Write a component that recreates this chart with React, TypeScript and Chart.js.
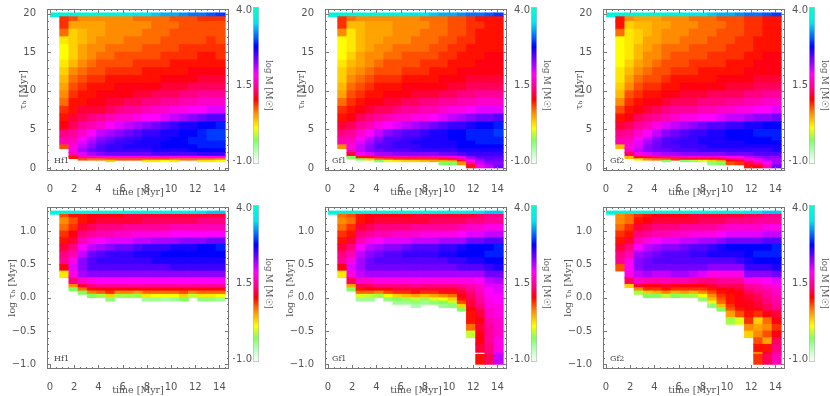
import React, { useEffect, useRef } from "react";
import { Chart, registerables } from "chart.js";
Chart.register(...registerables);

const _ = null;
const B4 = [_, _, _, _];
const B6 = [...B4, _, _];
const B8 = [...B6, _, _];
const B9 = [...B8, _];
const B10 = [...B9, _];
const B11 = [...B10, _];
const B12 = [...B11, _];
const B13 = [...B12, _];
const B14 = [...B13, _];
const B15 = [...B14, _];
const B17 = [...B15, _, _];
const B18 = [...B17, _];

const TIME_BINS = [0.42, 1.18, 1.94, 2.7, 3.46, 4.22, 4.98, 5.74, 6.5, 7.26, 8.02, 8.78, 9.54, 10.3, 11.06, 11.82, 12.58, 13.34, 14.1];
const TAU_EDGES = [0, 0.4, 0.8, 1, 1.2, 1.5, 2, 2.5, 3, 3.5, 4, 5, 6, 7, 8, 9, 10, 11, 12, 13, 14, 15, 16, 17, 18, 19, 19.6];
const LOG_EDGES = [-1, -0.85, -0.82, -0.7, -0.6, -0.5, -0.4, -0.3, -0.2, -0.15, -0.1, -0.05, 0, 0.05, 0.1, 0.15, 0.2, 0.3, 0.4, 0.5, 0.6, 0.7, 0.8, 0.9, 1, 1.1, 1.2, 1.25];
const TAU_STRIP_EDGES = [19.6, 20.1];
const LOG_STRIP_EDGES = [1.25, 1.3];
const TAU_STRIP = [39, 39, 39, 39, 39, 39, 38, 38, 37, 36, 36, 35, 34, 34, 33, 32, 32, 31, 30];
const LOG_STRIP = [39, 39, 39, 39, 39, 39, 39, 39, 39, 39, 39, 39, 38, 38, 38, 37, 36, 35, 35];

// values are log M x 10; each inner list is one time bin, bottom to top
const HF1_TAU = [
  [_,_,_,_,_,_,_,8,16,16,14,11,10,9,7,6,5,4,3,2,1,1,2,7,9,9],
  [_,_,_,_,10,16,18,18,17,16,15,13,12,10,10,9,8,7,6,4,3,3,3,3,5,8],
  [_,_,_,8,16,20,22,21,20,19,17,15,13,12,10,10,9,8,7,6,5,5,4,4,5,6],
  [_,_,_,7,17,22,24,23,22,21,19,16,14,12,11,10,10,9,8,7,6,6,5,5,5,6],
  [_,_,_,7,18,23,25,25,24,23,21,17,15,12,11,11,10,9,8,8,7,6,6,5,5,6],
  [_,_,3,8,18,24,26,26,25,24,22,19,16,13,12,11,10,10,9,8,7,7,6,6,6,6],
  [_,_,_,8,18,24,26,26,26,25,23,20,17,14,12,11,11,10,9,8,8,7,6,6,6,6],
  [_,_,_,8,18,24,26,27,26,26,24,21,17,15,13,11,11,10,9,8,8,7,7,6,6,6],
  [_,_,_,8,18,24,26,27,27,26,25,22,18,15,13,12,11,10,9,9,8,7,7,6,6,7],
  [_,_,2,8,18,24,26,27,27,27,26,23,19,16,14,12,11,10,10,9,8,8,7,7,6,7],
  [_,_,2,8,18,25,27,27,27,27,26,24,19,17,14,13,11,10,10,9,8,8,7,7,7,7],
  [_,_,1,8,18,25,27,28,28,27,27,25,20,17,15,13,12,11,10,9,9,8,8,7,7,7],
  [_,_,2,7,19,25,27,28,28,28,27,26,21,18,15,13,12,11,10,10,9,8,8,8,7,8],
  [_,_,_,7,19,25,27,28,28,28,28,27,22,18,16,14,12,11,10,10,9,9,8,8,8,8],
  [_,_,_,7,19,25,28,28,29,29,28,27,23,19,16,14,13,11,11,10,9,9,8,8,8,8],
  [_,_,2,7,19,26,28,29,29,29,29,28,24,19,17,15,13,12,11,10,10,9,8,8,8,9],
  [_,_,2,7,19,26,28,29,29,30,30,28,25,20,17,15,13,12,11,10,10,9,9,8,8,9],
  [_,_,1,6,19,26,28,29,29,30,30,29,25,20,17,15,13,12,11,10,9,9,8,8,8,9],
];
const GF1_TAU = [
  [_,_,_,_,_,_,_,6,16,16,14,12,10,9,7,5,4,3,3,2,1,1,1,6,9,9],
  [_,_,_,_,-3,12,17,18,17,16,15,13,11,10,9,8,7,6,5,4,3,2,2,2,4,7],
  [_,_,_,-3,10,19,21,21,20,19,17,15,13,11,10,9,8,7,6,5,5,4,4,4,4,6],
  [_,_,_,3,12,20,23,23,22,21,19,16,14,12,11,10,9,8,7,6,6,5,5,5,5,6],
  [_,_,-3,7,14,22,24,25,24,23,21,18,15,13,11,10,10,9,8,7,6,6,5,5,5,6],
  [_,_,0,8,15,22,25,25,25,25,23,19,16,13,12,11,10,9,8,8,7,6,6,5,5,6],
  [_,_,2,9,16,23,25,26,26,25,24,20,17,14,12,11,10,9,8,8,7,7,6,6,6,6],
  [_,_,3,9,16,23,25,26,26,26,25,21,17,15,13,11,11,10,9,8,8,7,6,6,6,6],
  [_,_,3,9,16,23,26,26,27,26,25,22,18,15,13,12,11,10,9,8,8,7,7,6,6,6],
  [_,_,4,9,16,23,26,27,27,27,26,23,18,16,14,12,11,10,9,9,8,7,7,7,6,7],
  [_,_,5,9,17,23,26,27,27,27,27,24,19,16,14,12,11,10,10,9,8,8,7,7,7,7],
  [_,-3,5,10,17,24,26,27,27,27,27,25,20,17,15,13,11,11,10,9,9,8,8,7,7,7],
  [_,-3,6,12,18,24,26,27,27,28,28,26,21,18,15,13,12,11,10,10,9,9,8,8,8,8],
  [_,6,12,16,20,25,27,28,28,28,28,26,22,18,16,14,12,11,11,10,10,9,9,8,8,8],
  [10,16,19,21,23,26,27,28,28,29,29,27,23,19,16,14,13,12,11,10,10,10,9,9,9,9],
  [18,21,22,23,25,26,27,28,29,29,29,28,24,20,17,15,13,12,11,11,10,10,10,10,9,10],
  [21,23,24,25,25,26,27,28,29,29,29,28,24,20,17,15,13,12,11,11,11,10,10,10,10,10],
  [24,23,24,24,25,26,27,28,29,29,30,29,25,20,17,15,13,12,11,11,11,10,10,10,10,10],
];
const GF2_TAU = [
  [_,_,_,_,_,_,_,4,16,16,14,12,10,8,6,4,3,2,2,1,1,1,1,7,10,10],
  [_,_,_,_,4,13,17,18,17,16,15,13,11,10,9,8,6,5,4,3,2,2,2,2,3,6],
  [_,_,_,2,12,18,21,20,20,19,17,15,13,11,10,9,8,7,6,5,4,4,3,3,4,5],
  [_,_,_,6,13,20,23,23,22,21,19,16,14,12,11,10,9,8,7,6,6,5,5,4,4,5],
  [_,_,_,7,14,21,24,24,24,23,21,18,15,13,11,10,9,8,8,7,6,6,5,5,5,5],
  [_,_,-3,8,15,22,24,25,25,25,23,20,16,14,12,11,10,9,8,8,7,7,6,6,5,6],
  [_,_,_,9,16,22,25,25,26,25,24,21,17,15,13,11,10,10,9,8,8,7,6,6,6,6],
  [_,_,-3,10,17,23,25,26,26,26,25,22,18,15,13,12,11,10,9,8,8,7,7,6,6,6],
  [_,_,-2,10,17,23,25,26,26,26,26,23,18,15,13,12,11,10,9,9,8,8,7,7,6,7],
  [_,_,0,10,17,23,26,26,27,27,26,24,19,16,14,12,11,10,10,9,8,8,7,7,7,7],
  [_,-4,3,10,17,23,26,27,27,27,27,25,19,16,14,13,11,10,10,9,9,8,8,7,7,7],
  [_,-3,5,11,18,23,26,27,27,27,27,25,20,17,14,13,11,11,10,9,9,8,8,8,7,8],
  [_,8,11,14,19,24,26,27,27,28,28,26,21,17,15,13,12,11,10,10,9,9,8,8,8,8],
  [_,9,12,15,19,24,26,27,27,28,28,26,21,18,15,13,12,11,10,10,9,9,9,8,8,8],
  [10,13,16,18,21,24,26,27,28,28,28,27,22,18,16,14,12,11,11,10,10,9,9,9,9,9],
  [11,16,18,20,22,25,26,27,28,28,29,27,23,19,16,14,13,12,11,11,10,10,10,9,9,9],
  [16,19,21,22,23,25,26,27,28,28,29,28,23,19,17,15,13,12,11,11,11,10,10,10,10,10],
  [24,22,22,22,23,25,27,27,28,29,29,28,24,20,17,15,13,12,11,11,11,10,10,10,10,10],
];
const HF1_LOG = [
  [...B11,_,_,_,_,_,_,2,11,15,14,12,10,9,7,6,8],
  [...B11,_,_,_,-3,6,14,18,20,18,16,14,12,11,9,8,10],
  [...B11,_,_,-3,7,12,17,22,23,23,21,19,16,14,12,10,10],
  [...B11,_,-3,6,10,14,18,23,25,25,24,21,18,15,13,11,11],
  [...B11,_,-2,7,11,15,19,23,25,26,25,22,19,16,14,12,11],
  [...B11,-4,3,9,11,15,19,23,25,26,26,23,20,16,14,12,11],
  [...B11,_,-2,6,11,15,19,23,25,26,26,24,20,17,14,12,11],
  [...B11,_,-2,6,11,15,19,23,25,26,26,24,20,17,15,12,12],
  [...B11,_,-2,5,11,15,19,23,25,26,27,25,21,18,15,12,12],
  [...B11,-5,2,7,11,15,19,23,25,26,27,26,21,18,15,13,12],
  [...B11,-5,1,7,11,15,19,23,25,27,27,26,22,18,15,13,12],
  [...B11,-6,1,7,11,15,19,23,25,27,28,26,22,18,15,13,12],
  [...B11,-5,1,7,11,15,19,23,26,27,28,27,22,19,16,13,12],
  [...B11,-3,3,8,11,15,19,23,26,27,28,27,23,19,16,13,12],
  [...B11,_,-1,6,11,15,19,23,26,27,28,27,23,19,16,13,12],
  [...B11,-4,2,7,11,15,19,23,26,27,28,28,23,19,16,14,12],
  [...B11,-4,2,7,11,15,19,23,26,27,28,28,24,19,16,14,12],
  [...B11,-5,1,7,11,15,19,23,26,27,28,29,24,19,16,14,12],
];
const GF1_LOG = [
  [...B17,2,11,15,14,12,10,9,7,6,7],
  [...B14,-3,5,13,18,20,18,16,14,12,10,9,7,8],
  [...B11,-5,0,7,10,13,17,21,22,22,21,19,16,14,12,10,10],
  [...B11,-5,-1,7,11,13,17,22,24,24,23,21,18,15,13,11,11],
  [...B12,-2,6,11,14,18,22,24,25,24,22,19,16,14,12,11],
  [...B11,-4,1,8,11,14,18,22,24,25,25,23,20,16,14,12,11],
  [...B10,-5,-3,3,9,12,14,18,22,24,25,25,23,20,17,14,12,11],
  [...B10,-5,-2,4,9,12,14,18,22,24,25,26,24,20,17,14,12,11],
  [...B9,-6,-4,-1,5,10,12,15,18,22,24,25,26,25,21,17,15,12,12],
  [...B10,-5,-2,4,9,12,14,18,22,24,25,26,25,21,18,15,12,12],
  [...B10,-4,0,5,9,12,14,18,22,24,25,26,25,21,18,15,13,12],
  [...B9,-5,-3,1,6,10,12,14,18,22,24,25,27,26,22,18,15,13,12],
  [...B9,-4,-1,3,7,10,12,14,18,22,24,26,27,26,22,18,15,13,12],
  [...B8,-3,3,8,10,11,12,13,15,18,22,25,26,28,27,22,19,16,13,12],
  [...B4,-1,7,10,10,11,12,12,13,13,14,15,16,18,22,25,27,28,28,24,20,17,14,12],
  [10,_,12,11,11,12,11,12,13,14,15,15,16,16,17,17,19,22,25,27,28,28,24,20,17,14,13],
  [13,14,14,15,15,15,16,17,17,18,18,18,19,19,19,20,21,24,26,28,29,28,25,21,18,15,14],
  [21,20,18,18,17,17,17,18,18,18,19,19,19,20,20,20,22,24,27,28,29,29,25,21,18,15,14],
];
const GF2_LOG = [
  [...B18,8,15,14,12,10,9,7,6,6],
  [...B15,3,13,18,19,18,16,14,12,10,9,7,7],
  [...B13,-2,6,12,17,21,23,23,22,19,16,14,12,10,9],
  [...B12,-3,3,9,11,16,22,24,24,23,21,18,15,13,11,10],
  [...B12,-3,4,9,11,16,21,24,25,24,22,19,16,14,12,11],
  [...B12,-1,6,10,12,16,21,24,25,25,23,20,16,14,12,11],
  [...B12,-3,4,9,11,16,22,24,25,25,23,20,17,14,12,11],
  [...B12,-2,5,9,11,16,22,24,25,25,24,21,17,15,12,11],
  [...B12,-2,4,9,11,15,21,24,25,26,25,21,18,15,12,12],
  [...B11,-4,1,6,9,11,14,20,24,25,26,25,22,18,15,13,12],
  [...B9,-4,0,4,6,8,10,12,14,18,23,25,27,26,22,18,15,13,12],
  [...B8,-3,4,7,8,9,10,11,13,15,18,23,25,27,27,23,19,16,13,12],
  [...B6,-2,5,8,9,10,10,10,11,11,13,15,18,23,25,27,28,24,20,17,14,12],
  [...B6,0,8,10,11,11,11,11,11,12,13,15,18,23,26,27,28,24,20,17,14,12],
  [...B4,3,6,9,10,11,11,11,12,12,13,14,15,18,23,26,27,28,28,24,20,17,14,13],
  [9,6,10,8,6,5,3,9,11,12,12,13,13,14,15,16,18,23,26,28,29,28,24,20,17,15,13],
  [13,12,10,5,8,6,7,11,13,13,14,14,15,15,16,17,19,23,26,28,29,28,25,21,18,15,14],
  [16,15,14,13,11,9,11,12,14,15,15,16,16,17,17,18,20,24,27,28,29,29,25,21,18,15,14],
];

const TIME_TICKS = [0, 2, 4, 6, 8, 10, 12, 14];
const TAU_TICKS = [0, 5, 10, 15, 20];
const LOG_TICKS = [-1, -0.5, 0, 0.5, 1];
const BAR_TICKS = [-1, 1.5, 4];
const LABELS = ["Hf1", "Gf1", "Gf2"];

const COLOR_STOPS: number[][] = [
  [-10, 240, 255, 240], [-6, 170, 255, 170], [-3, 130, 255, 90], [1, 255, 255, 0],
  [6, 255, 140, 0], [10.5, 255, 0, 0], [14, 255, 0, 128], [19, 255, 0, 255],
  [22, 170, 0, 255], [28, 0, 0, 255], [31, 0, 90, 255], [36, 0, 230, 240], [41, 0, 255, 210],
];
const RECT_X = [47, 325, 603];
const BAR_X = [253, 531, 809];
const RECT_Y = [3, 201];
const RW = 182, RH = 168;
const AL = 47, AB = 27, PAD = 3;
const TICK_FONT = { family: "'DejaVu Sans'", size: 10 };
const TITLE_FONT = { family: "'DejaVu Serif'", size: 9.5 };
const INK = "#555";

function colorOf(v: number) {
  const s = COLOR_STOPS;
  if (v <= s[0][0]) return `rgb(${s[0][1]},${s[0][2]},${s[0][3]})`;
  for (let i = 1; i < s.length; i++) {
    if (v <= s[i][0]) {
      const f = (v - s[i - 1][0]) / (s[i][0] - s[i - 1][0]);
      const c = [1, 2, 3].map((k) => Math.round(s[i - 1][k] + f * (s[i][k] - s[i - 1][k])));
      return `rgb(${c[0]},${c[1]},${c[2]})`;
    }
  }
  const l = s[s.length - 1];
  return `rgb(${l[1]},${l[2]},${l[3]})`;
}

function boxPlugin(label: string, xMinor: number, yMinor: number, yMajor: number) {
  return {
    id: "box",
    afterDatasetsDraw(chart: any) {
      const { ctx, chartArea: a, scales } = chart;
      const tick = (px: number, horizontal: boolean, len: number) => {
        const p = Math.round(px) + 0.5;
        ctx.beginPath();
        if (horizontal) {
          ctx.moveTo(a.left, p); ctx.lineTo(a.left + len, p);
          ctx.moveTo(a.right, p); ctx.lineTo(a.right - len, p);
        } else {
          ctx.moveTo(p, a.bottom); ctx.lineTo(p, a.bottom - len);
          ctx.moveTo(p, a.top); ctx.lineTo(p, a.top + len);
        }
        ctx.stroke();
      };
      ctx.save();
      ctx.strokeStyle = "#777";
      ctx.lineWidth = 1;
      ctx.strokeRect(a.left + 0.5, a.top + 0.5, a.right - a.left - 1, a.bottom - a.top - 1);
      for (let i = 0; i * xMinor <= 14.5; i++) {
        const v = i * xMinor;
        tick(scales.x.getPixelForValue(v), false, i % 4 === 0 ? 4 : 2);
      }
      const nTicks = Math.round((scales.y.max - scales.y.min) / yMinor) + 2;
      const first = Math.ceil(scales.y.min / yMinor);
      const every = Math.round(yMajor / yMinor);
      for (let i = first; i < first + nTicks; i++) {
        const v = i * yMinor;
        if (v > scales.y.max) break;
        tick(scales.y.getPixelForValue(v), true, i % every === 0 ? 4 : 2);
      }
      ctx.fillStyle = "#444";
      ctx.font = "8px 'DejaVu Serif'";
      ctx.textBaseline = "middle";
      ctx.fillText(label, a.left + 7, a.bottom - 10);
      ctx.restore();
    },
  };
}

type PanelProps = {
  col: number; row: number; columns: (number | null)[][]; edges: number[];
  strip: number[]; stripEdges: number[]; yMin: number; yMax: number;
  yTicks: number[]; yDigits: number; yTitle: string; titlePad: number;
  yMinor: number; yMajor: number;
};

function Panel(p: PanelProps) {
  const ref = useRef<HTMLCanvasElement>(null);
  useEffect(() => {
    const datasets: any[] = [];
    for (let r = 0; r < p.edges.length - 1; r++) {
      const data: any[] = [];
      p.columns.forEach((column, j) => {
        const v = column[r];
        if (v !== null && v !== undefined) data.push({ x: TIME_BINS[j + 1], y: [p.edges[r], p.edges[r + 1]], v });
      });
      datasets.push({ data });
    }
    datasets.push({
      data: p.strip.map((v, j) => ({ x: TIME_BINS[j], y: p.stripEdges, v })),
    });
    datasets.forEach((d) => {
      d.grouped = false;
      d.barPercentage = 1;
      d.categoryPercentage = 1;
      d.borderWidth = 0;
      d.inflateAmount = 0.4;
      d.backgroundColor = (c: any) => colorOf(c.raw ? c.raw.v : 0);
    });
    const chart = new Chart(ref.current!, {
      type: "bar",
      data: { datasets },
      plugins: [boxPlugin(LABELS[p.col], 0.5, p.yMinor, p.yMajor)],
      options: {
        responsive: false,
        animation: false,
        devicePixelRatio: 1,
        layout: { padding: { left: 0, right: PAD, top: PAD, bottom: 0 } },
        plugins: { legend: { display: false }, tooltip: { enabled: false } },
        scales: {
          x: {
            type: "linear", offset: false, min: -0.25, max: 14.79,
            grid: { display: false, offset: false }, border: { display: false },
            afterBuildTicks: (s: any) => { s.ticks = TIME_TICKS.map((value) => ({ value })); },
            afterFit: (s: any) => { s.height = AB; },
            ticks: { font: TICK_FONT, color: INK, padding: 4, maxRotation: 0, autoSkip: false, callback: (v: any) => String(v) },
            title: { display: true, text: "time [Myr]", font: TITLE_FONT, color: INK, padding: 0 },
          },
          y: {
            type: "linear", min: p.yMin, max: p.yMax,
            grid: { display: false }, border: { display: false },
            afterBuildTicks: (s: any) => { s.ticks = p.yTicks.map((value) => ({ value })); },
            afterFit: (s: any) => { s.width = AL; },
            ticks: {
              font: TICK_FONT, color: INK, padding: 3, autoSkip: false,
              callback: (v: any) => Number(v).toFixed(p.yDigits).replace("-", "\u2212"),
            },
            title: { display: true, text: p.yTitle, font: TITLE_FONT, color: INK, padding: { top: p.titlePad, bottom: 0 } },
          },
        },
      } as any,
    } as any);
    return () => chart.destroy();
  }, []);
  return (
    <canvas
      ref={ref}
      width={AL + RW + PAD}
      height={PAD + RH + AB}
      style={{ position: "absolute", left: RECT_X[p.col] - AL, top: RECT_Y[p.row] - PAD, display: "block" }}
    />
  );
}

function ColorBar({ col, row }: { col: number; row: number }) {
  const ref = useRef<HTMLCanvasElement>(null);
  const W = 20, BW = 6, R = 14;
  useEffect(() => {
    const gradient = (c: any) => {
      const { chart } = c;
      const y = chart.scales.y;
      if (!chart.chartArea || !y) return "#888";
      const g = chart.ctx.createLinearGradient(0, y.getPixelForValue(-1), 0, y.getPixelForValue(4.1));
      COLOR_STOPS.forEach((s) => {
        const f = (s[0] / 10 + 1) / 5.1;
        g.addColorStop(Math.min(1, Math.max(0, f)), `rgb(${s[1]},${s[2]},${s[3]})`);
      });
      return g;
    };
    const chart = new Chart(ref.current!, {
      type: "bar",
      data: {
        labels: [""],
        datasets: [{
          data: [[-1.1, 4.125]],
          backgroundColor: gradient,
          borderColor: "#bbb",
          borderWidth: 1,
          borderSkipped: false,
          barPercentage: 1,
          categoryPercentage: 1,
        }],
      },
      options: {
        responsive: false,
        animation: false,
        devicePixelRatio: 1,
        layout: { padding: { left: 0, right: 0, top: PAD, bottom: 0 } },
        plugins: { legend: { display: false }, tooltip: { enabled: false } },
        scales: {
          x: { type: "category", display: false },
          y: {
            type: "linear", min: -1.1, max: 4.125,
            grid: { display: false, drawTicks: false }, border: { display: false },
            afterBuildTicks: (s: any) => { s.ticks = BAR_TICKS.map((value) => ({ value })); },
            afterFit: (s: any) => { s.width = W; },
            ticks: { font: TICK_FONT, color: INK, padding: 1, autoSkip: false, callback: (v: any) => Number(v).toFixed(1).replace("-", "\u2212") },
          },
          y2: {
            type: "linear", position: "right", min: 0, max: 1,
            grid: { display: false, drawTicks: false }, border: { display: false },
            ticks: { display: false },
            afterFit: (s: any) => { s.width = R; },
            title: { display: true, text: "log M [M\u2609]", font: { family: "'DejaVu Serif'", size: 8.5 }, color: INK, padding: 0 },
          },
        },
      } as any,
    } as any);
    return () => chart.destroy();
  }, []);
  return (
    <canvas
      ref={ref}
      width={W + BW + R}
      height={PAD + RH}
      style={{ position: "absolute", left: BAR_X[col] - W, top: RECT_Y[row] - PAD, display: "block" }}
    />
  );
}

const TAU_COLUMNS = [HF1_TAU, GF1_TAU, GF2_TAU];
const LOG_COLUMNS = [HF1_LOG, GF1_LOG, GF2_LOG];
const COLS = [0, 1, 2];

export default function App() {
  return (
    <div style={{ position: "absolute", left: 0, top: 0, width: 830, height: 396, overflow: "hidden", background: "#fff", filter: "blur(0.6px)" }}>
      {COLS.map((c) => (
        <React.Fragment key={c}>
          <Panel col={c} row={0} columns={TAU_COLUMNS[c]} edges={TAU_EDGES} strip={TAU_STRIP} stripEdges={TAU_STRIP_EDGES}
            yMin={-0.4} yMax={20.6} yTicks={TAU_TICKS} yDigits={0} yTitle={"\u03C4\u2095 [Myr]"} titlePad={18} yMinor={1} yMajor={5} />
          <ColorBar col={c} row={0} />
          <Panel col={c} row={1} columns={LOG_COLUMNS[c]} edges={LOG_EDGES} strip={LOG_STRIP} stripEdges={LOG_STRIP_EDGES}
            yMin={-1.07} yMax={1.36} yTicks={LOG_TICKS} yDigits={1} yTitle={"log \u03C4\u2095 [Myr]"} titlePad={7} yMinor={0.1} yMajor={0.5} />
          <ColorBar col={c} row={1} />
        </React.Fragment>
      ))}
    </div>
  );
}
